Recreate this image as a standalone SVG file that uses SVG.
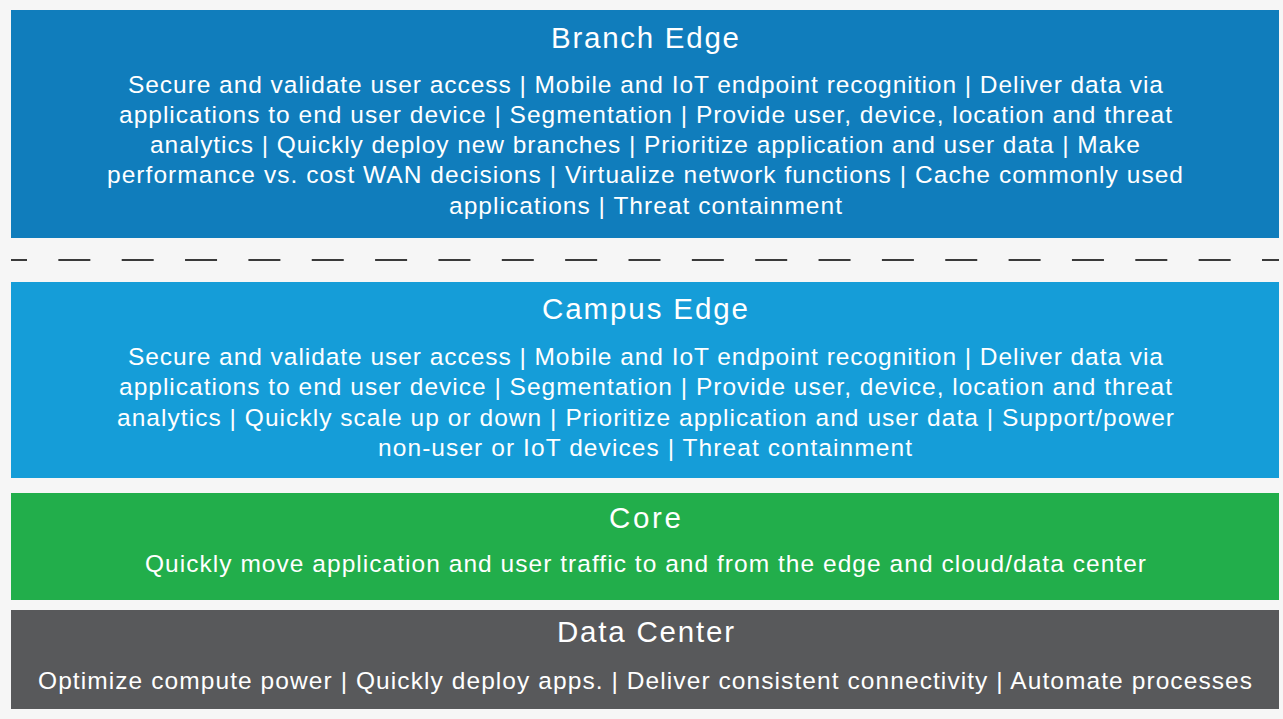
<svg xmlns="http://www.w3.org/2000/svg" width="1283" height="719" viewBox="0 0 1283 719">
<style>
text{font-family:"Liberation Sans",Arial,sans-serif;fill:#ffffff;}
.t{font-size:29.5px;}
.b{font-size:24.5px;}
</style>
<rect x="0" y="0" width="1283" height="719" fill="#f6f6f6"/>
<g id="branch-edge">
<rect x="11" y="10" width="1268" height="228" fill="#107dbc"/>
<text class="t" x="551" y="48" textLength="188" lengthAdjust="spacing">Branch Edge</text>
<text class="b" x="128" y="93" textLength="1035" lengthAdjust="spacing">Secure and validate user access | Mobile and IoT endpoint recognition | Deliver data via</text>
<text class="b" x="119" y="123" textLength="1053" lengthAdjust="spacing">applications to end user device | Segmentation | Provide user, device, location and threat</text>
<text class="b" x="150" y="153" textLength="990" lengthAdjust="spacing">analytics | Quickly deploy new branches | Prioritize application and user data | Make</text>
<text class="b" x="107" y="183" textLength="1076" lengthAdjust="spacing">performance vs. cost WAN decisions | Virtualize network functions | Cache commonly used</text>
<text class="b" x="449" y="214" textLength="393" lengthAdjust="spacing">applications | Threat containment</text>
</g>
<g id="connectors">
<line x1="11" y1="260" x2="1279" y2="260" stroke="#3a3a3a" stroke-width="2" stroke-dasharray="32 31.35" stroke-dashoffset="16"/>
</g>
<g id="campus-edge">
<rect x="11" y="282" width="1268" height="196" fill="#159dd8"/>
<text class="t" x="542" y="319" textLength="206" lengthAdjust="spacing">Campus Edge</text>
<text class="b" x="128" y="365" textLength="1035" lengthAdjust="spacing">Secure and validate user access | Mobile and IoT endpoint recognition | Deliver data via</text>
<text class="b" x="119" y="395" textLength="1053" lengthAdjust="spacing">applications to end user device | Segmentation | Provide user, device, location and threat</text>
<text class="b" x="117" y="426" textLength="1057" lengthAdjust="spacing">analytics | Quickly scale up or down | Prioritize application and user data | Support/power</text>
<text class="b" x="378" y="456" textLength="534" lengthAdjust="spacing">non-user or IoT devices | Threat containment</text>
</g>
<g id="core">
<rect x="11" y="493" width="1268" height="107" fill="#22ae4b"/>
<text class="t" x="609" y="528" textLength="72" lengthAdjust="spacing">Core</text>
<text class="b" x="145" y="572" textLength="1001" lengthAdjust="spacing">Quickly move application and user traffic to and from the edge and cloud/data center</text>
</g>
<g id="data-center">
<rect x="11" y="610" width="1268" height="99" fill="#58595b"/>
<text class="t" x="557" y="642" textLength="177" lengthAdjust="spacing">Data Center</text>
<text class="b" x="38" y="689" textLength="1214" lengthAdjust="spacing">Optimize compute power | Quickly deploy apps. | Deliver consistent connectivity | Automate processes</text>
</g>
</svg>
